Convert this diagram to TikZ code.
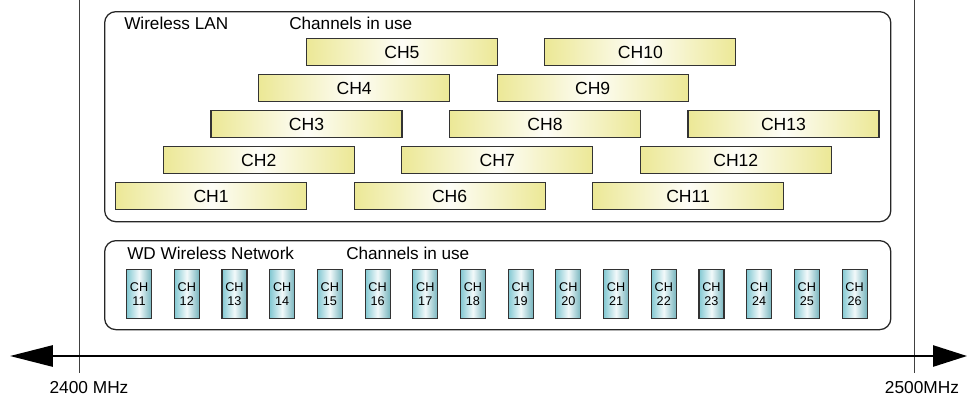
\documentclass[tikz,border=0pt]{standalone}
\usepackage{fontspec}
\setmainfont{Liberation Sans}
\usetikzlibrary{arrows.meta,positioning}

\tikzset{
  panel/.style={draw=black!85,line width=0.9pt,rounded corners=8pt,anchor=north west,inner sep=0pt},
  wlanch/.style={draw=black!80,line width=0.8pt,anchor=north west,inner sep=0pt,
    minimum width=4.775cm,minimum height=0.675cm,
    left color=yellowch,right color=yellowch,middle color=yellowch!8,
    font=\fontsize{12.5}{14}\selectfont},
  wdch/.style={draw=black!80,line width=0.8pt,anchor=north west,inner sep=0pt,
    minimum width=0.625cm,minimum height=1.225cm,align=center,
    left color=cyanch,right color=cyanch!90!black,middle color=cyanch!10,
    font=\fontsize{9}{10}\selectfont},
  title/.style={anchor=base west,inner sep=0pt,font=\fontsize{12.2}{14}\selectfont},
  freq/.style={anchor=base,inner sep=0pt,font=\fontsize{12.3}{14}\selectfont},
}
\definecolor{yellowch}{RGB}{236,232,150}
\definecolor{cyanch}{RGB}{130,200,210}

\begin{document}
\begin{tikzpicture}[x=0.025cm,y=-0.025cm]
   \useasboundingbox (0,0) rectangle (968,397);
   % frequency marks
   \draw[black!75,line width=0.7pt] (79,0) -- (79,373);
   \draw[black!75,line width=0.7pt] (914,0) -- (914,373);
   % containers
   \node[panel,minimum width=19.65cm,minimum height=5.25cm] (wlan) at (104,11) {};
   \node[panel,minimum width=19.65cm,minimum height=2.225cm] (wdnet) at (104,240) {};
   \node[title] (wlantitle) at (124,29) {Wireless LAN};
   \node[title] (wlanuse) at (289,29) {Channels in use};
   \node[title] (wdtitle) at (127,259) {WD Wireless Network};
   \node[title] (wduse) at (346,259) {Channels in use};
   % wireless LAN channels, staggered in five rows
   \foreach \n in {1,...,13}{
     \pgfmathsetmacro{\row}{int(mod(\n-1,5))}
     \node[wlanch] (ch\n) at ({115+(\n-1)*47.7},{182-36*\row}) {CH\n};
   }
   % WD channels
   \foreach \n in {11,...,26}{
     \node[wdch] (wd\n) at ({126+(\n-11)*47.7},269) {CH\\\n};
   }
   % axis
   \coordinate (lo) at (10,356);
   \coordinate (hi) at (967,356);
   \draw[line width=1.4pt,{Triangle[length=10.7mm,width=5.3mm]}-{Triangle[length=8.5mm,width=5.3mm]}] (lo) -- (hi);
   \node[freq] (f2400) at (89,393) {2400 MHz};
   \node[freq] (f2500) at (922,393) {2500MHz};
\end{tikzpicture}
\end{document}
